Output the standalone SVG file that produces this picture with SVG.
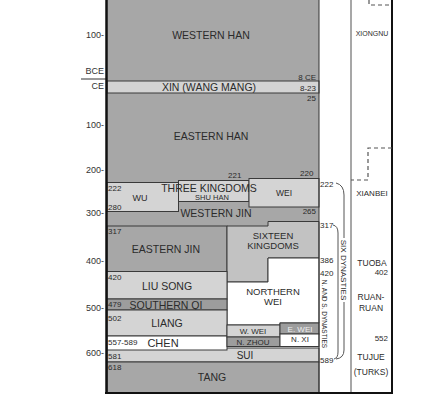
<svg xmlns="http://www.w3.org/2000/svg" width="422" height="416" viewBox="0 0 422 416">
<style>
.t{font-family:"Liberation Sans",Arial,sans-serif;fill:#2b2b2b}
.L{font-size:10.5px;text-anchor:middle}
.C{text-anchor:middle}
.E{text-anchor:end}
.M{font-size:8px}
.S{font-size:7px}
.ax{font-size:9px;text-anchor:end;fill:#333}
.b{stroke:#3a3a3a;stroke-width:1}
.g1{fill:#a7a7a7}
.g2{fill:#d4d4d4}
.g3{fill:#c2c2c2}
.g4{fill:#9d9d9d}
.w{fill:#fff}
.dash{fill:none;stroke:#555;stroke-width:1.2;stroke-dasharray:4 3}
.br{fill:none;stroke:#555;stroke-width:1}
</style>
<rect width="422" height="416" fill="#fff"/>
<g id="axis">
<text class="t ax" x="104" y="38.2">100-</text>
<text class="t ax" x="104" y="74">BCE</text>
<text class="t ax" x="104" y="89">CE</text>
<line x1="81" y1="79" x2="107" y2="79" stroke="#333" stroke-width="1"/>
<text class="t ax" x="104" y="128.2">100-</text>
<text class="t ax" x="104" y="173.2">200-</text>
<text class="t ax" x="104" y="216.2">300-</text>
<text class="t ax" x="104" y="264.2">400-</text>
<text class="t ax" x="104" y="311.2">500-</text>
<text class="t ax" x="104" y="356.2">600-</text>
</g>
<g id="western-han"><rect class="g1" x="107" y="0" width="212" height="81"/><text class="t L" x="211" y="38.7">WESTERN HAN</text></g>
<g id="eastern-han"><rect class="g1" x="107" y="93" width="212" height="97"/><text class="t L" x="211" y="139.7">EASTERN HAN</text><text class="t M E" x="316" y="100.8">25</text></g>
<g id="xin"><rect class="g2 b" x="107" y="81" width="212" height="12"/><text class="t L" x="209" y="90.7">XIN (WANG MANG)</text>
<text class="t M E" x="316" y="79.8">8 CE</text><text class="t M E" x="316" y="90.8">8-23</text></g>
<g id="western-jin"><rect class="g1" x="107" y="190" width="212" height="36"/><text class="t L" x="216" y="216.7">WESTERN JIN</text></g>
<g id="wu"><rect class="g2 b" x="107" y="182.5" width="71.5" height="29"/><text class="t C" style="font-size:9px" x="140" y="201">WU</text>
<text class="t M" x="108" y="190.8">222</text><text class="t M" x="108" y="209.8">280</text></g>
<g id="shu-han"><rect class="g2 b" x="178.5" y="180.5" width="70.5" height="21"/><text class="t C" style="font-size:7.5px" x="212" y="199.6">SHU HAN</text><text class="t M" x="228" y="177.8">221</text></g>
<g id="wei"><rect class="g2 b" x="249" y="178.5" width="70" height="28.5"/><text class="t C" style="font-size:8.5px" x="284" y="196">WEI</text><text class="t M" x="300" y="175.8">220</text><text class="t M E" x="316" y="214">265</text></g>
<text class="t L" x="209" y="191.7">THREE KINGDOMS</text>
<g id="eastern-jin"><rect class="g1 b" x="107" y="226" width="120" height="45.5"/><text class="t L" x="166" y="252.7">EASTERN JIN</text><text class="t M" x="108" y="233.8">317</text></g>
<g id="sixteen-kingdoms"><polygon class="g3 b" points="227,226 268,226 268,221.5 319,221.5 319,258 268,258 268,282 227,282"/>
<text class="t C" style="font-size:9.5px" x="273" y="238.8">SIXTEEN</text><text class="t C" style="font-size:9.5px" x="273" y="249">KINGDOMS</text><text class="t M E" x="316" y="265">386</text></g>
<g id="northern-wei"><polygon class="w b" points="268,258 319,258 319,323 280,323 280,325 227,325 227,282 268,282"/>
<text class="t C" style="font-size:9.5px" x="273" y="294.8">NORTHERN</text><text class="t C" style="font-size:9.5px" x="273" y="305">WEI</text></g>
<g id="liu-song"><rect class="g2 b" x="107" y="271.5" width="120" height="27.5"/><text class="t L" x="167" y="289.7">LIU SONG</text><text class="t M" x="108" y="279.8">420</text></g>
<g id="southern-qi"><rect class="g4 b" x="107" y="299" width="120" height="11"/><text class="t L" x="166" y="308.7">SOUTHERN QI</text><text class="t M" x="108" y="306.8">479</text></g>
<g id="liang"><rect class="g2 b" x="107" y="310" width="120" height="26"/><text class="t L" x="167" y="326.7">LIANG</text><text class="t M" x="108" y="320.8">502</text></g>
<g id="sui"><rect class="g2 b" x="107" y="348" width="212" height="14"/><text class="t C" style="font-size:10px" x="245" y="358.5">SUI</text><text class="t M" x="108" y="358.8">581</text></g>
<g id="chen"><rect class="w b" x="107" y="336" width="120" height="14"/><text class="t M" x="108" y="345.3">557-589</text><text class="t C" style="font-size:11px" x="163" y="346.5">CHEN</text></g>
<g id="w-wei"><rect class="g2 b" x="227" y="325" width="53" height="12"/><text class="t M C" x="253" y="333.8">W. WEI</text></g>
<g id="n-zhou"><rect class="g4 b" x="227" y="337" width="53" height="9.5"/><text class="t M C" x="253" y="344.5">N. ZHOU</text></g>
<g id="e-wei"><rect class="g4 b" x="280" y="323" width="39" height="11"/><text class="t M C" style="fill:#eee" x="300" y="331.8">E. WEI</text></g>
<g id="n-xi"><rect class="w b" x="280" y="334" width="39" height="12.5"/><text class="t M C" x="300" y="342.1">N. XI</text></g>
<g id="tang"><rect class="g1 b" x="107" y="362" width="212" height="31"/><text class="t L" x="212" y="380.7">TANG</text><text class="t M" x="108" y="369.8">618</text></g>
<g id="frame">
<line x1="319" y1="0" x2="319" y2="393" stroke="#333" stroke-width="1"/>
<line x1="351" y1="0" x2="351" y2="393" stroke="#8a8a8a" stroke-width="1.5"/>
<line x1="392" y1="0" x2="392" y2="394" stroke="#111" stroke-width="2"/>
<line x1="106.5" y1="0" x2="106.5" y2="394" stroke="#111" stroke-width="2.5"/>
<line x1="105" y1="393" x2="393" y2="393" stroke="#111" stroke-width="2"/>
</g>
<g id="dynasty-labels">
<text class="t M" x="320" y="186.8">222</text>
<text class="t M" x="320" y="227.8">317</text>
<text class="t M" x="320" y="262.8">386</text>
<text class="t M" x="320" y="275.8">420</text>
<text class="t M" x="320" y="362.8">589</text>
<text class="t C" style="font-size:8px" transform="translate(341,270) rotate(90)">SIX DYNASTIES</text>
<text class="t C" style="font-size:6.5px" transform="translate(321.5,314) rotate(90)">N. AND S. DYNASTIES</text>
</g>
<g id="nomads">
<text class="t S C" x="372" y="35.5">XIONGNU</text>
<text class="t M C" x="372" y="195.8">XIANBEI</text>
<text class="t C" style="font-size:8.5px" x="372" y="266">TUOBA</text>
<text class="t M E" x="388" y="274.8">402</text>
<text class="t C" style="font-size:8.5px" x="371" y="300">RUAN-</text>
<text class="t C" style="font-size:8.5px" x="371" y="311">RUAN</text>
<text class="t M E" x="388" y="340.8">552</text>
<text class="t C" style="font-size:8.5px" x="371" y="360">TUJUE</text>
<text class="t C" style="font-size:8.5px" x="371" y="375">(TURKS)</text>
</g>
<g id="connectors">
<path class="dash" d="M369,0 V5 H392"/>
<path class="dash" d="M392,148 H368 V180 H351"/>
<path class="br" d="M336,183 Q344,185 344,195 V238"/>
<path class="br" d="M344,302 V350 Q344,358 336,359"/>
<path class="br" d="M333,225 Q338,226 338,233 V352 Q338,358 334,359"/>
</g>
</svg>
